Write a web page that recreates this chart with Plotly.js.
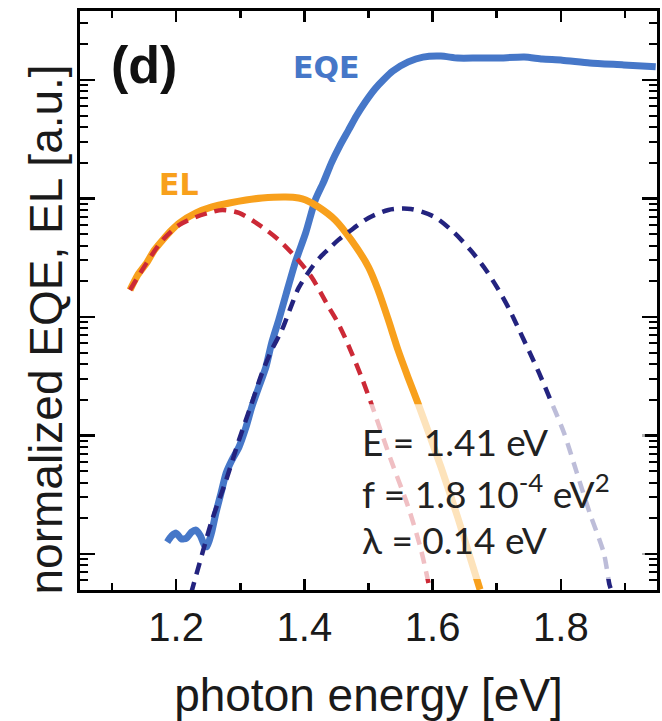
<!DOCTYPE html>
<html>
<head>
<meta charset="utf-8">
<script src="https://cdn.plot.ly/plotly-3.0.1.min.js"></script>
<style>html,body{margin:0;padding:0;background:#fff;}#chart{width:662px;height:721px;}</style>
</head>
<body>
<div id="chart"></div>
<script>
// ---- data (photon energy in eV, normalized signal in a.u.) ----
const eqeEnergy = [1.186,1.193,1.200,1.208,1.216,1.224,1.231,1.238,1.244,1.248,1.255,1.262,1.270,1.278,1.287,1.298,1.309,1.318,1.329,1.340,1.349,1.360,1.371,1.386,1.402,1.417,1.430,1.442,1.455,1.469,1.481,1.495,1.510,1.523,1.538,1.562,1.585,1.613,1.639,1.670,1.701,1.743,1.771,1.802,1.845,1.898,1.948];
const eqeValue  = [1.26e-4,1.42e-4,1.50e-4,1.34e-4,1.36e-4,1.53e-4,1.59e-4,1.42e-4,1.19e-4,1.15e-4,1.50e-4,2.22e-4,3.27e-4,4.83e-4,6.21e-4,8.00e-4,1.18e-3,1.74e-3,2.57e-3,3.79e-3,6.04e-3,9.44e-3,1.53e-2,2.91e-2,5.12e-2,9.71e-2,0.138,0.199,0.277,0.379,0.497,0.652,0.840,1.00,1.19,1.42,1.56,1.59,1.53,1.53,1.53,1.56,1.50,1.47,1.39,1.34,1.29];

const elEnergy = [1.128,1.140,1.154,1.166,1.179,1.193,1.205,1.231,1.256,1.283,1.309,1.334,1.371,1.391,1.402,1.422,1.448,1.473,1.500,1.515,1.531,1.546,1.562,1.577,1.613,1.639,1.674];
const elValue  = [1.69e-2,2.26e-2,2.86e-2,3.67e-2,4.47e-2,5.42e-2,6.21e-2,7.55e-2,8.48e-2,9.16e-2,9.71e-2,0.101,0.103,0.101,9.71e-2,8.48e-2,6.59e-2,4.47e-2,2.64e-2,1.69e-2,9.44e-3,5.27e-3,3.06e-3,1.88e-3,5.42e-4,2.05e-4,5.0e-5];

const elFitEnergy = [1.128,1.154,1.179,1.205,1.231,1.256,1.272,1.298,1.334,1.360,1.386,1.411,1.438,1.451,1.464,1.489,1.504,1.535,1.562,1.582,1.596];
const elFitValue  = [1.69e-2,2.86e-2,4.47e-2,5.98e-2,6.98e-2,7.69e-2,8.0e-2,7.55e-2,5.75e-2,4.47e-2,3.21e-2,2.18e-2,1.21e-2,9.2e-3,6.6e-3,3.12e-3,1.88e-3,6.21e-4,2.49e-4,1.08e-4,4.9e-5];

const eqeFitEnergy = [1.223,1.241,1.256,1.278,1.298,1.317,1.334,1.349,1.365,1.380,1.391,1.411,1.425,1.438,1.453,1.469,1.500,1.531,1.566,1.603,1.634,1.659,1.681,1.701,1.720,1.735,1.751,1.766,1.782,1.805,1.825,1.845,1.867,1.876,1.879];
const eqeFitValue  = [4.6e-5,1.02e-4,1.94e-4,4.21e-4,9.16e-4,1.81e-3,3.37e-3,5.27e-3,7.77e-3,1.26e-2,1.76e-2,2.59e-2,3.21e-2,3.75e-2,4.47e-2,5.21e-2,6.85e-2,8.0e-2,8.15e-2,6.98e-2,5.12e-2,3.67e-2,2.59e-2,1.76e-2,1.15e-2,7.77e-3,5.07e-3,3.37e-3,2.11e-3,1.05e-3,4.83e-4,2.22e-4,1.02e-4,5.47e-5,4.9e-5];

const xTickValues = [1.2, 1.4, 1.6, 1.8];
const xTickLabels = ['1.2', '1.4', '1.6', '1.8'];
const xMinorTicks = [1.1, 1.3, 1.5, 1.7, 1.9];
const yDecadeExponents = [-5, -4, -3, -2, -1, 0];
const yLogDigits = [1, 2, 3, 4, 5, 6, 7, 8, 9];
const fitLines = ['E = 1.41 eV', 'f = 1.8 10<sup>-4</sup> eV<sup>2</sup>', 'λ = 0.14 eV'];
const panelLabel = '(d)';
const xTitle = 'photon energy [eV]';
const yTitle = 'normalized EQE, EL [a.u.]';

// every 1..9 position of each decade (short ticks); decades get long ticks on the overlay axis
const yAllTicks = [];
yDecadeExponents.forEach(e => yLogDigits.forEach(d => yAllTicks.push(d * Math.pow(10, e))));

// ---- styles ----
const cEQE = '#4677c8', cEL = '#f8a01c', cELfit = '#cc2936', cEQEfit = '#23237f';
const yRange = [-4.304, 0.582], xRange = [1.05, 1.95];

const traces = [
  {x: eqeEnergy, y: eqeValue, type: 'scatter', mode: 'lines', name: 'EQE',
   line: {color: cEQE, width: 7, shape: 'spline', smoothing: 0.6}},
  {x: elEnergy, y: elValue, type: 'scatter', mode: 'lines', name: 'EL',
   line: {color: cEL, width: 7, shape: 'spline', smoothing: 0.6}},
  {x: elFitEnergy, y: elFitValue, type: 'scatter', mode: 'lines', name: 'EL fit',
   line: {color: cELfit, width: 4.5, dash: '12px,8px', shape: 'spline', smoothing: 0.8}},
  {x: eqeFitEnergy, y: eqeFitValue, type: 'scatter', mode: 'lines', name: 'EQE fit',
   xaxis: 'x2', yaxis: 'y2',
   line: {color: cEQEfit, width: 4.5, dash: '12px,8px', shape: 'spline', smoothing: 0.8}}
];

const axisFont = {family: 'Liberation Sans, Arial, sans-serif', size: 40, color: '#1a1a1a'};
const frame = {showline: true, linecolor: '#000', linewidth: 3, mirror: 'ticks', showgrid: false, zeroline: false};

const fitAnn = fitLines.map((t, i) => ({
  xref: 'paper', yref: 'paper', x: 0.485, y: [0.2565, 0.1718, 0.0872][i],
  xanchor: 'left', yanchor: 'middle', showarrow: false, text: t,
  font: {family: 'Lato, Open Sans, sans-serif', size: 37, color: '#222'}
}));

const layout = {
  width: 662, height: 721,
  margin: {l: 80, r: 5, t: 11, b: 131},
  paper_bgcolor: '#fff', plot_bgcolor: '#fff',
  showlegend: false,
  xaxis: Object.assign({
    range: xRange, tickmode: 'array', tickvals: xTickValues, ticktext: xTickLabels,
    ticks: 'inside', ticklen: 11, tickwidth: 2.5, tickcolor: '#000',
    tickfont: axisFont,
    title: {text: xTitle, font: {family: 'Liberation Sans, Arial, sans-serif', size: 46, color: '#1a1a1a'}, standoff: 39}
  }, frame),
  yaxis: Object.assign({
    type: 'log', range: yRange, tickmode: 'array', tickvals: yAllTicks,
    ticks: 'inside', ticklen: 8, tickwidth: 2, tickcolor: '#000',
    showticklabels: false
  }, frame),
  xaxis2: Object.assign({
    overlaying: 'x', anchor: 'y2', side: 'bottom', range: xRange, tickmode: 'array', tickvals: xMinorTicks,
    ticks: 'inside', ticklen: 7, tickwidth: 2.5, tickcolor: '#000', showticklabels: false
  }, frame),
  yaxis2: Object.assign({
    overlaying: 'y', anchor: 'x2', side: 'left', type: 'log', range: yRange, dtick: 1, tick0: 0,
    ticks: 'inside', ticklen: 15, tickwidth: 2.5, tickcolor: '#000', showticklabels: false
  }, frame),
  shapes: [
    {type: 'rect', xref: 'paper', yref: 'paper', x0: 0.4645, x1: 0.979, y0: 0.019, y1: 0.321,
     fillcolor: 'rgba(255,255,255,0.7)', line: {width: 0}, layer: 'above'}
  ],
  annotations: [
    {xref: 'paper', yref: 'paper', x: -0.0589, y: 0.450, textangle: -90, showarrow: false,
     xanchor: 'center', yanchor: 'middle', text: yTitle,
     font: {family: 'Liberation Sans, Arial, sans-serif', size: 46, color: '#1a1a1a'}},
    {xref: 'paper', yref: 'paper', x: 0.0500, y: 0.906, xanchor: 'left', yanchor: 'middle', showarrow: false,
     text: '<b>' + panelLabel + '</b>',
     font: {family: 'Liberation Sans, Arial, sans-serif', size: 52, color: '#111'}},
    {xref: 'paper', yref: 'paper', x: 0.366, y: 0.903, xanchor: 'left', yanchor: 'middle', showarrow: false,
     text: '<b>EQE</b>', font: {family: 'DejaVu Sans, sans-serif', size: 30, color: cEQE}},
    {xref: 'paper', yref: 'paper', x: 0.1335, y: 0.700, xanchor: 'left', yanchor: 'middle', showarrow: false,
     text: '<b>EL</b>', font: {family: 'DejaVu Sans, sans-serif', size: 30, color: cEL}}
  ].concat(fitAnn)
};

Plotly.newPlot('chart', traces, layout, {displayModeBar: false, staticPlot: true});
</script>
</body>
</html>
